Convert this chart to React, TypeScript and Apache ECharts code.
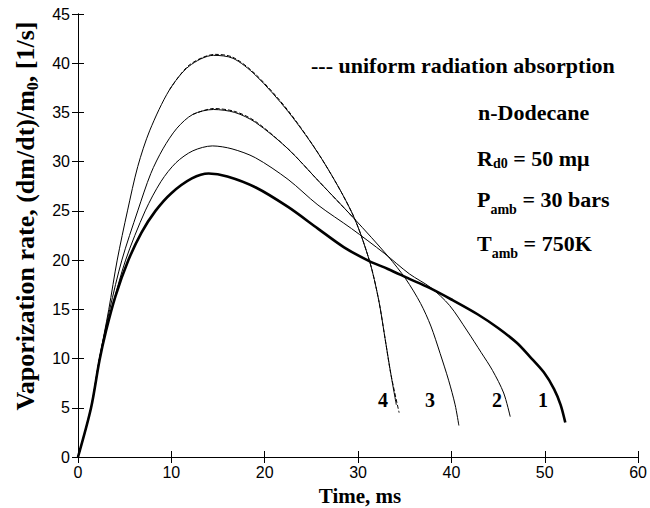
import React, { useEffect, useRef } from "react";
import * as echarts from "echarts";

// Tick values
const xTickStep = 10;
const yTickStep = 5;
const xMax = 60;
const yMax = 45;

// Curve 1 (thick)
const curve1: [number, number][] = [
  [0, 0], [1.4, 5], [2.3, 9.8], [3.0, 12.8], [4.0, 16.3], [5.4, 20], [6.8, 22.8], [8.3, 25.0],
  [10, 26.8], [12.2, 28.3], [14.0, 28.8], [16, 28.5], [19, 27.4], [22.5, 25.4], [25.7, 23.2],
  [28.5, 21.3], [31.2, 19.9], [33.2, 19.1], [35.5, 18.1], [37.6, 17.2], [40.0, 16.0], [42.8, 14.5],
  [45.0, 13.1], [47.0, 11.6], [48.4, 10.2], [49.9, 8.6], [51.0, 6.9], [51.7, 5.3], [52.2, 3.5],
];
// Curve 2
const curve2: [number, number][] = [
  [0, 0], [1.4, 5], [2.3, 10], [3.6, 15], [5.1, 20], [7.2, 25], [8.9, 28], [10.5, 29.9],
  [12.3, 31.1], [14.4, 31.6], [16.5, 31.3], [19, 30.4], [22.5, 28.2], [25.7, 25.6], [29.3, 23.2],
  [32.8, 20.7], [35.5, 18.6], [37.8, 17.2], [39.8, 15.4], [41.7, 12.8], [43.2, 10.6], [44.4, 8.8],
  [45.6, 6.5], [46.3, 4.1],
];
// Curve 3
const curve3: [number, number][] = [
  [0, 0], [1.4, 5], [2.3, 10], [3.4, 15], [4.7, 20], [6.4, 25], [7.8, 28.8], [9.1, 31.3],
  [10.6, 33.4], [12.3, 34.8], [14.5, 35.3], [16.8, 35.0], [19, 34.0], [22.5, 31.3], [25.7, 28.1],
  [29.6, 24.2], [33.2, 20.4], [35.1, 18.1], [36.7, 15.6], [37.8, 13.3], [38.8, 10.5], [39.7, 7.8],
  [40.4, 5.3], [40.8, 3.2],
];
// Curve 4
const curve4: [number, number][] = [
  [0, 0], [1.4, 5], [2.3, 10], [3.3, 15], [4.2, 20], [5.3, 25], [6.4, 29.5], [7.7, 33.2],
  [9.8, 37.3], [11.9, 39.7], [14.5, 40.8], [16.6, 40.5], [19, 38.8], [22.5, 35.1], [26.1, 30.3],
  [29.4, 24.7], [31.2, 20.0], [32.2, 16], [32.9, 12], [33.5, 8.5], [34.1, 5.3],
];
// Uniform radiation absorption (dashed) — nearly coincide with curves 4 and 3
const uniform4: [number, number][] = [
  [9.8, 37.3], [11.9, 39.8], [14.7, 40.9], [16.6, 40.6], [19, 38.9], [22.5, 35.2], [26.1, 30.3],
  [29.4, 24.7], [31.2, 20.0], [32.2, 16], [32.9, 12], [33.5, 8.5], [34.4, 4.5],
];
const uniform3: [number, number][] = [
  [12.3, 34.8], [14.5, 35.4], [16.8, 35.1], [19, 34.1], [22.5, 31.3], [25.7, 28.1], [29.6, 24.2],
];

const curveLabels = ["4", "3", "2", "1"];

const SERIF = "'Liberation Serif', 'Times New Roman', serif";
const SANS = "'Liberation Sans', Arial, sans-serif";

export default function App() {
  const ref = useRef<HTMLDivElement>(null);
  useEffect(() => {
    const chart = echarts.init(ref.current!, undefined, { renderer: "svg" });
    const axisCommon = {
      type: "value" as const,
      axisLine: { show: true, lineStyle: { color: "#000", width: 1 } },
      axisTick: { show: true, inside: true, length: 6, lineStyle: { color: "#000", width: 1 } },
      splitLine: { show: false },
    };
    const lineSeries = (data: [number, number][], width: number, dashed = false) => ({
      type: "line" as const,
      data,
      showSymbol: false,
      symbol: "none",
      smooth: 0.3,
      clip: false,
      lineStyle: { color: "#000", width, type: dashed ? ("dashed" as const) : ("solid" as const) },
      z: dashed ? 3 : 2,
    });
    const subRich = (lh: number) => ({
      m: { fontFamily: SERIF, fontWeight: "bold", fontSize: 22, lineHeight: lh, verticalAlign: "middle", fill: "#000" },
      s: { fontFamily: SERIF, fontWeight: "bold", fontSize: 14, lineHeight: 14, verticalAlign: "bottom", fill: "#000" },
    });
    const textStyle = (text: string, extra: any = {}) => ({
      text,
      fontFamily: SERIF,
      fontWeight: "bold",
      fontSize: 22,
      fill: "#000",
      textVerticalAlign: "middle",
      ...extra,
    });
    const option: any = {
      animation: false,
      backgroundColor: "#fff",
      grid: { left: 78, right: 8, top: 14, bottom: 51 },
      xAxis: [
        {
          ...axisCommon,
          min: 0, max: xMax, interval: xTickStep,
          axisLabel: { color: "#000", fontFamily: SANS, fontSize: 16, margin: 7 },
        },
        {
          ...axisCommon,
          position: "top",
          min: 0, max: xMax, interval: xTickStep,
          axisLabel: { show: false },
        },
      ],
      yAxis: [
        {
          ...axisCommon,
          min: 0, max: yMax, interval: yTickStep,
          axisLabel: { color: "#000", fontFamily: SANS, fontSize: 16, margin: 8 },
        },
        {
          ...axisCommon,
          position: "right",
          min: 0, max: yMax, interval: yTickStep,
          axisLabel: { show: false },
        },
      ],
      series: [
        lineSeries(curve1, 2.6),
        lineSeries(curve2, 1),
        lineSeries(curve3, 1),
        lineSeries(curve4, 1),
        lineSeries(uniform4, 1, true),
        lineSeries(uniform3, 1, true),
      ],
      graphic: [
        { type: "text", x: 311, y: 65, style: textStyle("--- uniform radiation absorption") },
        { type: "text", x: 478, y: 112, style: textStyle("n-Dodecane") },
        { type: "text", x: 477, y: 158, style: textStyle("{m|R}{s|d0}{m| = 50 mμ}", { rich: subRich(24) }) },
        { type: "text", x: 477, y: 199, style: textStyle("{m|P}{s|amb}{m| = 30 bars}", { rich: subRich(34) }) },
        { type: "text", x: 477, y: 243, style: textStyle("{m|T}{s|amb}{m| = 750K}", { rich: subRich(34) }) },
        { type: "text", x: 360, y: 496, style: textStyle("Time, ms", { textAlign: "center", fontSize: 21 }) },
        {
          type: "text", x: 25, y: 216, rotation: Math.PI / 2,
          style: textStyle("{m|Vaporization rate, (dm/dt)/m}{s|0}{m|, [1/s]}", {
            textAlign: "center",
            rich: {
              m: { fontFamily: SERIF, fontWeight: "bold", fontSize: 26, lineHeight: 30, verticalAlign: "middle", fill: "#000" },
              s: { fontFamily: SERIF, fontWeight: "bold", fontSize: 16, lineHeight: 16, verticalAlign: "bottom", fill: "#000" },
            },
          }),
        },
        ...curveLabels.map((t, i) => ({
          type: "text",
          x: [383, 430, 497, 543][i],
          y: 400,
          style: textStyle(t, { fontSize: 20, textAlign: "center" }),
        })),
      ],
    };
    chart.setOption(option);
    return () => chart.dispose();
  }, []);
  return (
    <div
      ref={ref}
      style={{ position: "fixed", left: 0, top: 0, width: 650, height: 508, background: "#fff" }}
    />
  );
}
